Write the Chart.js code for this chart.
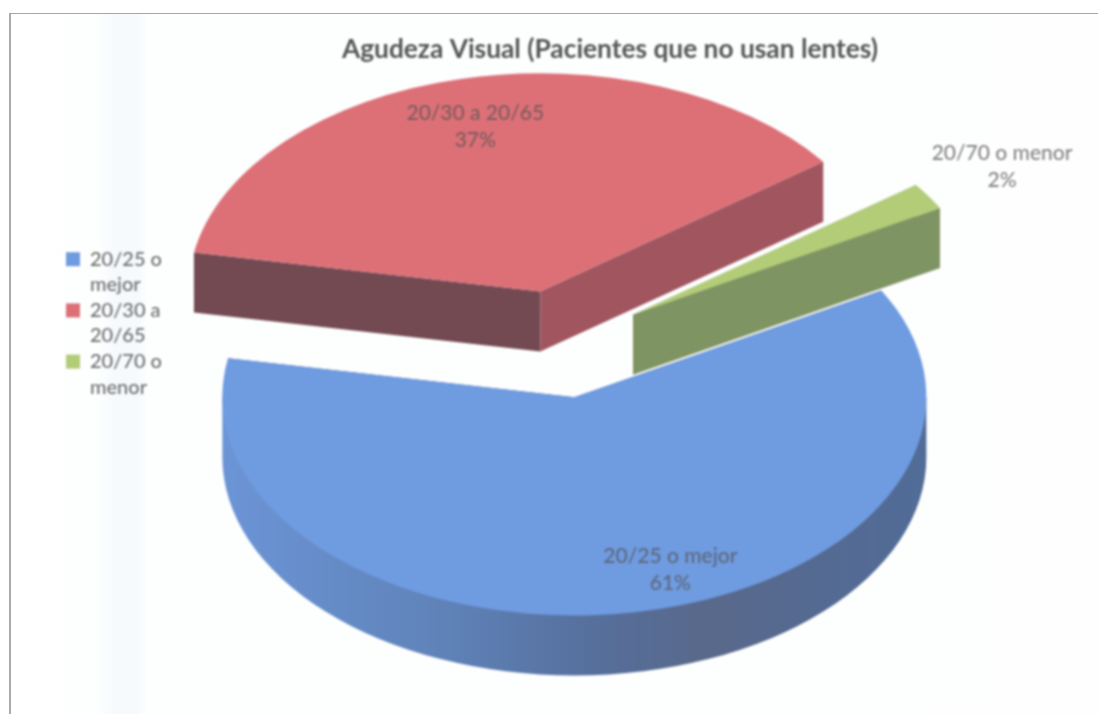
<!DOCTYPE html>
<html lang="es">
<head>
<meta charset="utf-8">
<title>Agudeza Visual</title>
<script src="https://cdn.jsdelivr.net/npm/chart.js@4"></script>
<style>
html,body{margin:0;padding:0;background:#fff;}
#page{position:relative;width:1100px;height:714px;overflow:hidden;background:#fff;}
#paper{position:absolute;left:9px;top:13px;right:2px;bottom:-5px;box-sizing:border-box;
  border-top:1.5px solid #a4a8aa;border-left:2px solid #a9adaf;
  background:linear-gradient(90deg,#fff 0,#fdfefe 88px,#f6fafd 104px,#f6fafd 126px,#fdfefe 136px,#fefefe 100%);}
canvas{position:absolute;left:0;top:0;filter:blur(0.8px);}
</style>
</head>
<body>
<div id="page"><div id="paper"></div><canvas id="c" width="1100" height="714"></canvas></div>
<script>
const titleText = 'Agudeza Visual (Pacientes que no usan lentes)';
const categories = ['20/25 o mejor', '20/30 a 20/65', '20/70 o menor'];
const legendLines = [['20/25 o', 'mejor'], ['20/30 a', '20/65'], ['20/70 o', 'menor']];
const values = [61, 37, 2];
const topColors = ['#6f9be0', '#dd7077', '#b2cc78'];
const startFaceColors = ['#4f6a95', '#734a52', '#7f9463'];
const endFaceColors = ['#4f6a95', '#a0555f', '#7f9463'];

// View of the pie: tilt, explosion and thickness
const VIEW = { cx: 560, cy: 344, tilt: 0.62, explode: 87, depth: 60, radius: 352, rotation: 60.7 };
const FONT = 'Lato';
const labelOffsets = [[96, 172], [-65, -165], [369, -148]];

function sliceCentre(arc) {
  const mid = (arc.startAngle + arc.endAngle) / 2;
  return {
    x: VIEW.cx + VIEW.explode * Math.cos(mid),
    y: VIEW.cy + VIEW.explode * Math.sin(mid) * VIEW.tilt
  };
}

function drawFace(ctx, c, angle, color) {
  const R = VIEW.radius, K = VIEW.tilt, D = VIEW.depth;
  const px = c.x + R * Math.cos(angle), py = c.y + R * Math.sin(angle) * K;
  ctx.beginPath();
  ctx.moveTo(c.x, c.y);
  ctx.lineTo(px, py);
  ctx.lineTo(px, py + D);
  ctx.lineTo(c.x, c.y + D);
  ctx.closePath();
  ctx.fillStyle = color;
  ctx.fill();
}

function drawOuterWall(ctx, c, a0, a1) {
  // only the part of the rim that faces the viewer (lower half of the ellipse)
  const s = Math.max(a0, 0), e = Math.min(a1, Math.PI);
  if (e <= s) return;
  const R = VIEW.radius, K = VIEW.tilt, D = VIEW.depth;
  const g = ctx.createLinearGradient(c.x - R, 0, c.x + R, 0);
  g.addColorStop(0, '#6c95d6');
  g.addColorStop(0.32, '#5f82b8');
  g.addColorStop(0.53, '#566f9c');
  g.addColorStop(0.68, '#59698b');
  g.addColorStop(1, '#516c98');
  ctx.beginPath();
  ctx.moveTo(c.x + R * Math.cos(e), c.y + R * Math.sin(e) * K);
  ctx.ellipse(c.x, c.y + D, R, R * K, 0, e, s, true);
  ctx.lineTo(c.x + R * Math.cos(s), c.y + R * Math.sin(s) * K);
  // upper boundary runs just inside the top face, so no seam shows
  ctx.ellipse(c.x, c.y, R - 3, (R - 3) * K, 0, s, e, false);
  ctx.closePath();
  ctx.fillStyle = g;
  ctx.fill();
}

const pie3d = {
  id: 'pie3d',
  beforeDatasetsDraw(chart) {
    const ctx = chart.ctx;
    const arcs = chart.getDatasetMeta(0).data;
    // painter's order: back slice, then large front slice, then the small wedge on top
    [1, 0, 2].forEach(i => {
      const arc = arcs[i];
      const c = sliceCentre(arc);
      ctx.save();
      drawFace(ctx, c, arc.startAngle, startFaceColors[i]);
      drawOuterWall(ctx, c, arc.startAngle, arc.endAngle);
      drawFace(ctx, c, arc.endAngle, endFaceColors[i]);
      ctx.translate(c.x, c.y);
      ctx.scale(1, VIEW.tilt);
      ctx.translate(-arc.x, -arc.y);
      arc.draw(ctx);
      ctx.restore();
    });
    // data labels
    const total = values.reduce((a, b) => a + b, 0);
    ctx.save();
    ctx.font = '500 21px ' + FONT;
    ctx.textAlign = 'center';
    ctx.textBaseline = 'middle';
    ctx.fillStyle = 'rgba(85,85,85,0.72)';
    arcs.forEach((arc, i) => {
      const c = sliceCentre(arc);
      const x = c.x + labelOffsets[i][0], y = c.y + labelOffsets[i][1];
      ctx.fillText(categories[i], x, y - 13);
      ctx.fillText(Math.round(values[i] / total * 100) + '%', x, y + 14);
    });
    ctx.restore();
    return false;
  }
};

new Chart(document.getElementById('c'), {
  type: 'pie',
  data: {
    labels: categories,
    datasets: [{ data: values, backgroundColor: topColors, borderWidth: 0 }]
  },
  plugins: [pie3d],
  options: {
    responsive: false,
    animation: false,
    rotation: VIEW.rotation,
    radius: VIEW.radius,
    layout: { padding: { left: 66, right: 52, top: 20, bottom: 82 } },
    plugins: {
      tooltip: { enabled: false },
      title: {
        display: true,
        text: titleText,
        fullSize: false,
        color: '#555555',
        font: { family: FONT, size: 26.3, weight: 'bold' },
        padding: { top: 14, bottom: 10 }
      },
      legend: {
        display: true,
        position: 'left',
        labels: {
          boxWidth: 14,
          boxHeight: 14,
          padding: 0,
          color: '#6e6e6e',
          font: { family: FONT, size: 20, lineHeight: 1.28, weight: '500' },
          generateLabels() {
            return legendLines.map((lines, i) => ({
              text: lines,
              fontColor: '#6e6e6e',
              fillStyle: topColors[i],
              strokeStyle: topColors[i],
              lineWidth: 0,
              index: i,
              hidden: false
            }));
          }
        }
      }
    }
  }
});
</script>
</body>
</html>
